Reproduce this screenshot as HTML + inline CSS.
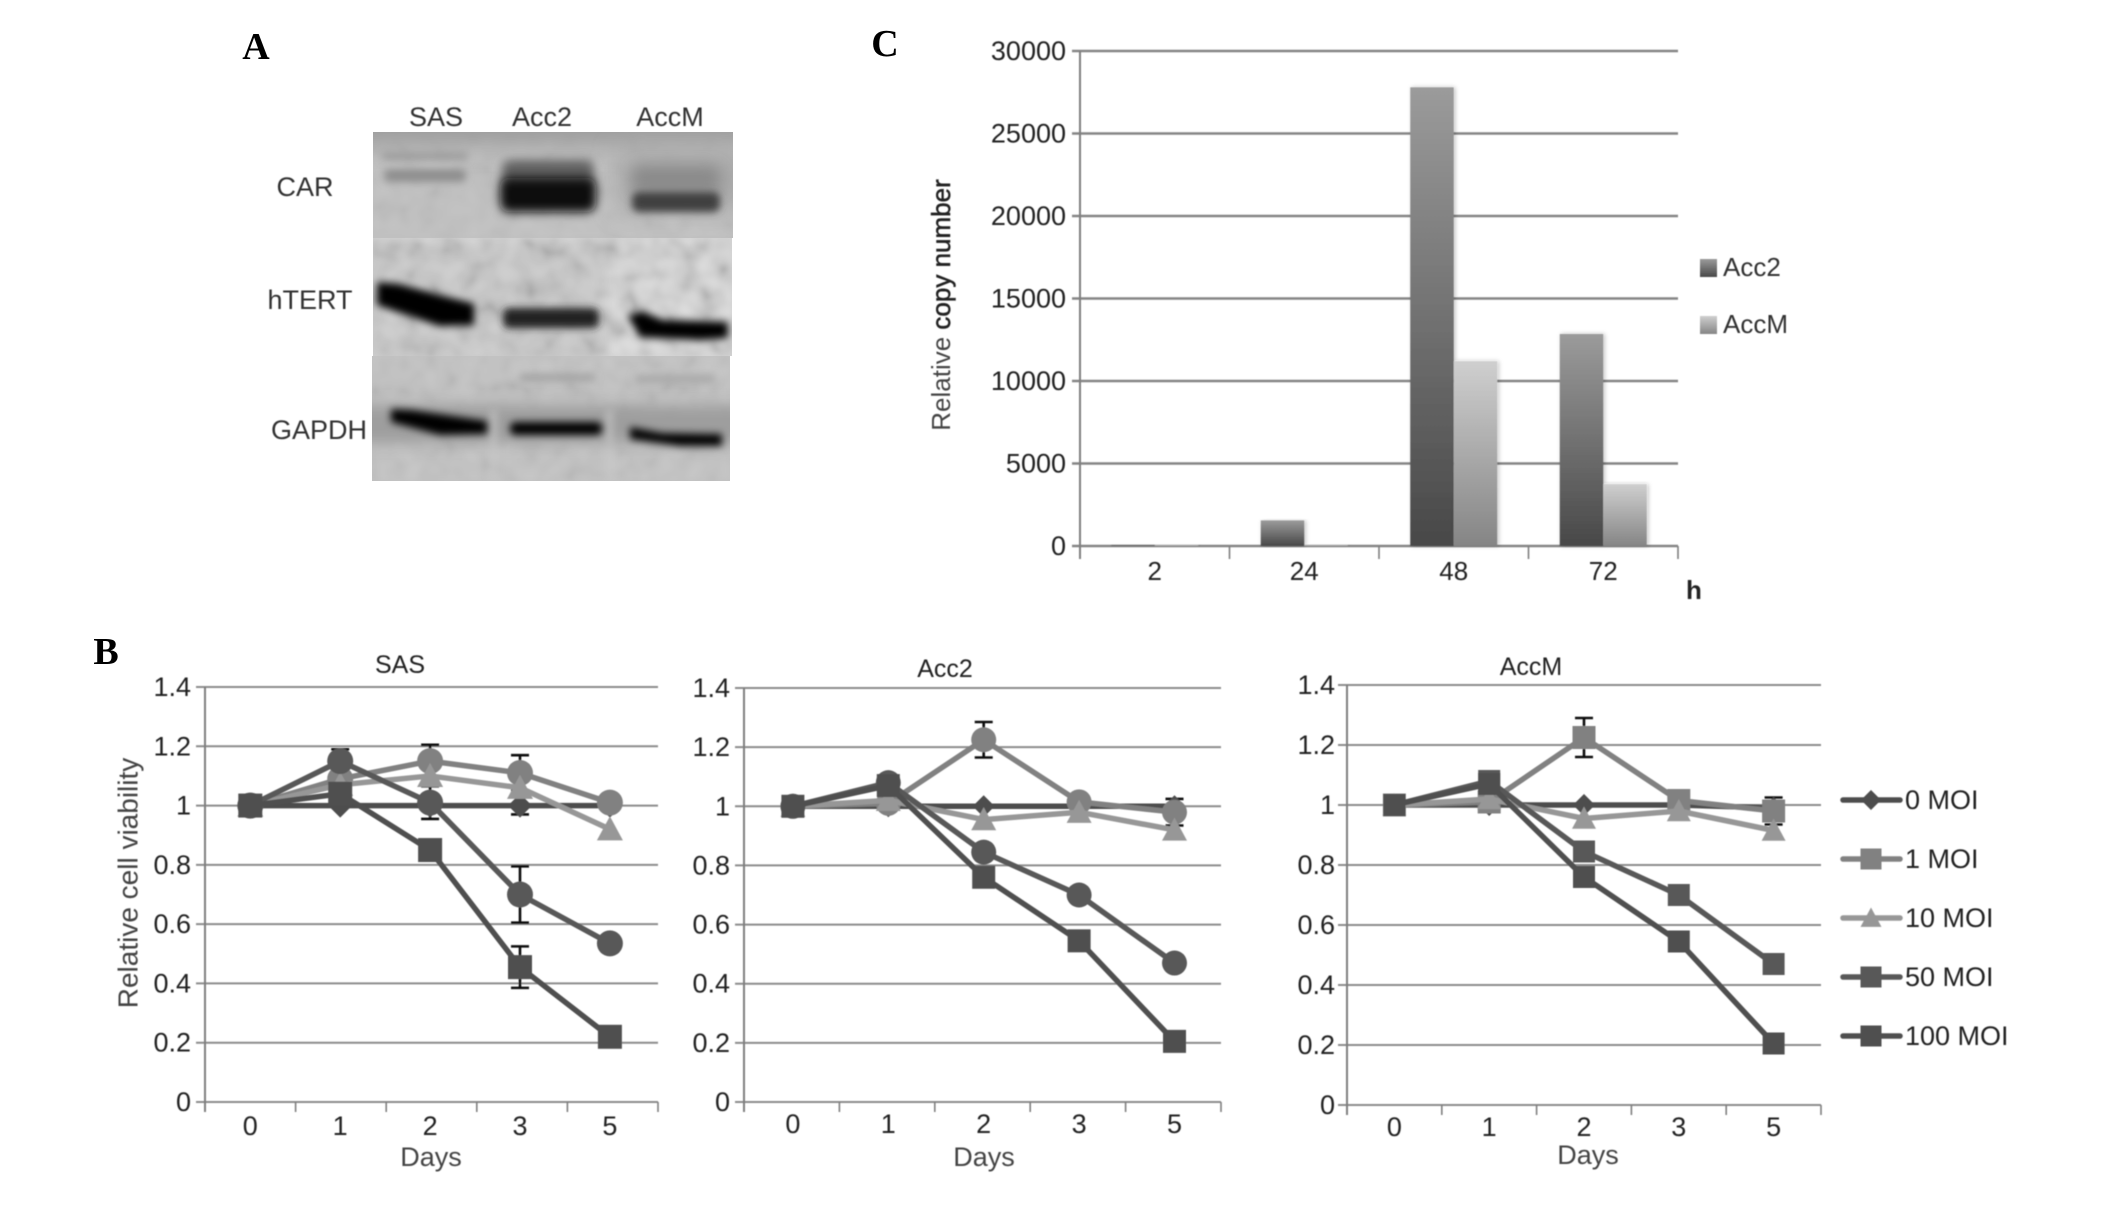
<!DOCTYPE html>
<html lang="en">
<head>
<meta charset="utf-8">
<title>Western blot, cell viability and copy number figure</title>
<style>
html,body{margin:0;padding:0;background:#fff;width:2126px;height:1206px;overflow:hidden}
svg{display:block;font-family:"Liberation Sans",sans-serif}
</style>
</head>
<body>
<svg id="fig" xmlns="http://www.w3.org/2000/svg" width="2126" height="1206" viewBox="0 0 2126 1206">
<defs>
  <filter id="b4" filterUnits="userSpaceOnUse" x="340" y="100" width="420" height="420"><feGaussianBlur stdDeviation="4"/></filter>
  <filter id="b5" filterUnits="userSpaceOnUse" x="340" y="100" width="420" height="420"><feGaussianBlur stdDeviation="5"/></filter>
  <filter id="b7" filterUnits="userSpaceOnUse" x="340" y="100" width="420" height="420"><feGaussianBlur stdDeviation="7"/></filter>
  <filter id="b12" filterUnits="userSpaceOnUse" x="300" y="60" width="500" height="500"><feGaussianBlur stdDeviation="12"/></filter>
  <filter id="soft" x="-5%" y="-5%" width="110%" height="110%"><feGaussianBlur stdDeviation="0.55"/></filter>
  <filter id="noise" x="0" y="0" width="100%" height="100%">
    <feTurbulence type="fractalNoise" baseFrequency="0.05" numOctaves="2" seed="7"/>
    <feColorMatrix type="matrix" values="1.8 0 0 0 -0.4  1.8 0 0 0 -0.4  1.8 0 0 0 -0.4  0 0 0 0 1"/>
    <feGaussianBlur stdDeviation="2.5"/>
  </filter>
  <filter id="shadow" x="-20%" y="-5%" width="140%" height="110%"><feDropShadow dx="1.5" dy="0" stdDeviation="2" flood-color="#000" flood-opacity="0.25"/></filter>
  <linearGradient id="gradAcc2" x1="0" y1="0" x2="0" y2="1"><stop offset="0" stop-color="#9b9b9b"/><stop offset="1" stop-color="#484848"/></linearGradient>
  <linearGradient id="gradAccM" x1="0" y1="0" x2="0" y2="1"><stop offset="0" stop-color="#cfcfcf"/><stop offset="1" stop-color="#858585"/></linearGradient>
  <clipPath id="clipCar"><rect x="373" y="132" width="360" height="106"/></clipPath>
  <clipPath id="clipTert"><rect x="373" y="238" width="359" height="118"/></clipPath>
  <clipPath id="clipGapdh"><rect x="372" y="356" width="358" height="125"/></clipPath>
</defs>

<text x="256" y="59" text-anchor="middle" font-family="Liberation Serif" font-weight="bold" font-size="38" fill="#000">A</text>
<text x="106" y="664" text-anchor="middle" font-family="Liberation Serif" font-weight="bold" font-size="38" fill="#000">B</text>
<text x="885" y="56" text-anchor="middle" font-family="Liberation Serif" font-weight="bold" font-size="38" fill="#000">C</text>

<g>
  <g clip-path="url(#clipCar)">
    <rect x="373" y="132" width="360" height="106" fill="#c0c0c0"/>
    <rect x="373" y="132" width="360" height="106" filter="url(#noise)" opacity="0.06"/>
    <rect x="340" y="105" width="420" height="40" fill="#9c9c9c" filter="url(#b12)"/>
    <rect x="618" y="150" width="130" height="60" fill="#a8a8a8" filter="url(#b12)"/>
    <rect x="382" y="152" width="85" height="8" rx="3" fill="#9c9c9c" filter="url(#b4)"/>
    <rect x="384" y="169" width="82" height="13" rx="5" fill="#8e8e8e" filter="url(#b4)"/>
    <rect x="502" y="160" width="92" height="28" rx="8" fill="#606060" filter="url(#b5)"/>
    <rect x="500" y="178" width="96" height="34" rx="9" fill="#111" filter="url(#b5)"/>
    <rect x="632" y="166" width="88" height="26" rx="8" fill="#8a8a8a" filter="url(#b7)"/>
    <rect x="632" y="192" width="88" height="20" rx="7" fill="#404040" filter="url(#b4)"/>
  </g>
  <g clip-path="url(#clipTert)">
    <rect x="373" y="238" width="359" height="118" fill="#d4d4d4"/>
    <rect x="373" y="238" width="359" height="118" filter="url(#noise)" opacity="0.2"/>
    <rect x="360" y="240" width="245" height="125" fill="#b0b0b0" opacity="0.3" filter="url(#b7)"/>
    <path d="M377 282 L398 284 L474 304 L474 325 L440 326 L377 305 Z" fill="#000" filter="url(#b4)"/>
    <rect x="503" y="308" width="96" height="20" rx="6" fill="#202020" filter="url(#b4)"/>
    <path d="M628 316 L642 311 L662 320 L728 322 L728 338 L700 340 L640 337 Z" fill="#000" filter="url(#b4)"/>
  </g>
  <g clip-path="url(#clipGapdh)">
    <rect x="372" y="356" width="358" height="125" fill="#c2c2c2"/>
    <rect x="372" y="356" width="358" height="125" filter="url(#noise)" opacity="0.08"/>
    <rect x="340" y="405" width="420" height="38" fill="#9e9e9e" filter="url(#b7)"/>
    <rect x="520" y="374" width="75" height="7" fill="#a0a0a0" filter="url(#b4)"/>
    <rect x="635" y="375" width="80" height="8" fill="#a8a8a8" filter="url(#b4)"/>
    <rect x="490" y="410" width="7" height="70" fill="#c8c8c8" opacity="0.7" filter="url(#b4)"/>
    <rect x="606" y="410" width="7" height="70" fill="#c8c8c8" opacity="0.7" filter="url(#b4)"/>
    <path d="M391 409 L412 410 L487 421 L487 434 L440 435 L391 422 Z" fill="#000" filter="url(#b4)"/>
    <rect x="510" y="422" width="92" height="13" rx="5" fill="#000" filter="url(#b4)"/>
    <path d="M630 427 L662 433 L722 434 L722 446 L680 446 L630 439 Z" fill="#000" filter="url(#b4)"/>
  </g>
  <g fill="#333" font-size="27" text-anchor="middle" dominant-baseline="central" filter="url(#soft)">
    <text x="436" y="117">SAS</text>
    <text x="542" y="117">Acc2</text>
    <text x="670" y="117">AccM</text>
    <text x="305" y="187">CAR</text>
    <text x="310" y="300">hTERT</text>
    <text x="319" y="430">GAPDH</text>
  </g>
</g>

<g id="chartC" filter="url(#soft)"></g>
<g id="chartSAS" filter="url(#soft)"></g>
<g id="chartAcc2" filter="url(#soft)"></g>
<g id="chartAccM" filter="url(#soft)"></g>
<g id="legendB" filter="url(#soft)"></g>
</svg>

<script>
// ---- Panel C data ----
const hourCategories = ['2', '24', '48', '72'];
const copyAcc2 = [80, 1550, 27800, 12850];
const copyAccM = [60, 60, 11200, 3750];
const copyTicks = [0, 5000, 10000, 15000, 20000, 25000, 30000];

// ---- Panel B data ----
const dayCategories = ['0', '1', '2', '3', '5'];
const viabilityTicks = [0, 0.2, 0.4, 0.6, 0.8, 1, 1.2, 1.4];
const moiLabels = ['0 MOI', '1 MOI', '10 MOI', '50 MOI', '100 MOI'];

const sasMoi0 = [1, 1, 1, 1, 1];
const sasMoi1 = [1, 1.09, 1.15, 1.11, 1.01];
const sasMoi10 = [1, 1.07, 1.10, 1.06, 0.92];
const sasMoi50 = [1, 1.15, 1.01, 0.70, 0.535];
const sasMoi100 = [1, 1.04, 0.85, 0.455, 0.22];
const sasErrMoi0 = [0, 0, 0, 0.03, 0];
const sasErrMoi1 = [0, 0, 0.055, 0.06, 0];
const sasErrMoi10 = [0, 0, 0, 0, 0];
const sasErrMoi50 = [0, 0.04, 0.055, 0.095, 0];
const sasErrMoi100 = [0, 0, 0.03, 0.07, 0];

const acc2Moi0 = [1, 1, 1, 1, 1];
const acc2Moi1 = [1, 1.01, 1.225, 1.015, 0.98];
const acc2Moi10 = [1, 1.02, 0.955, 0.98, 0.92];
const acc2Moi50 = [1, 1.08, 0.845, 0.70, 0.47];
const acc2Moi100 = [1, 1.07, 0.76, 0.545, 0.205];
const acc2ErrMoi1 = [0, 0, 0.06, 0, 0.045];

const accmMoi0 = [1, 1, 1, 1, 0.99];
const accmMoi1 = [1, 1.01, 1.225, 1.015, 0.98];
const accmMoi10 = [1, 1.02, 0.955, 0.98, 0.915];
const accmMoi50 = [1, 1.08, 0.845, 0.70, 0.47];
const accmMoi100 = [1, 1.07, 0.76, 0.545, 0.205];
const accmErrMoi1 = [0, 0, 0.065, 0, 0.045];

const NS = 'http://www.w3.org/2000/svg';
function make(parent, tag, attrs, text) {
  const el = document.createElementNS(NS, tag);
  for (const k in attrs) el.setAttribute(k, attrs[k]);
  if (text !== undefined) el.textContent = text;
  parent.appendChild(el);
  return el;
}

const AXIS = '#7f7f7f';
const INK = '#222';

// ---- Panel C ----
(function () {
  const root = document.getElementById('chartC');
  const L = 1080, R = 1678, T = 51, B = 546, yMax = 30000;
  const y = v => B - (v / yMax) * (B - T);
  const band = (R - L) / hourCategories.length;
  const xc = i => L + (i + 0.5) * band;
  const bw = 43.5;
  copyTicks.forEach(t => {
    const g = make(root, 'line', { x1: L - 8, x2: R, y1: y(t), y2: y(t), stroke: '#858585', 'stroke-width': 2.4 });
    
    
    const lab = make(root, 'text', { x: L - 14, y: y(t), 'text-anchor': 'end', 'dominant-baseline': 'central', 'font-size': 27, fill: INK }, String(t));
    
    
  });
  const ya = make(root, 'line', { x1: L, x2: L, y1: T, y2: B + 13, stroke: AXIS, 'stroke-width': 2 });
  
  
  for (let i = 0; i <= hourCategories.length; i++) {
    const tk = make(root, 'line', { x1: L + i * band, x2: L + i * band, y1: B, y2: B + 13, stroke: AXIS, 'stroke-width': 1.6 });
    
    
  }
  hourCategories.forEach((c, i) => {
    const a = make(root, 'rect', { x: xc(i) - bw, y: y(copyAcc2[i]), width: bw, height: B - y(copyAcc2[i]), fill: 'url(#gradAcc2)', filter: 'url(#shadow)' });
    
    
    const m = make(root, 'rect', { x: xc(i), y: y(copyAccM[i]), width: bw, height: B - y(copyAccM[i]), fill: 'url(#gradAccM)', filter: 'url(#shadow)' });
    
    
    const lab = make(root, 'text', { x: xc(i), y: 571, 'text-anchor': 'middle', 'dominant-baseline': 'central', 'font-size': 26, fill: INK }, c);
    
    
  });
  const h = make(root, 'text', { x: 1694, y: 590, 'text-anchor': 'middle', 'dominant-baseline': 'central', 'font-size': 26, 'font-weight': 'bold', fill: '#222' }, 'h');
  
  
  const yt = make(root, 'text', { transform: 'translate(941,305) rotate(-90)', 'text-anchor': 'middle', 'dominant-baseline': 'central', 'font-size': 26, fill: '#444' });
  
  
  make(yt, 'tspan', {}, 'Relative ');
  make(yt, 'tspan', { fill: '#222', stroke: '#222', 'stroke-width': 0.5 }, 'copy number');
  const s1 = make(root, 'rect', { x: 1700, y: 259, width: 17, height: 18, fill: 'url(#gradAcc2)' });
  
  
  const t1 = make(root, 'text', { x: 1723, y: 267, 'dominant-baseline': 'central', 'font-size': 26, fill: '#333' }, 'Acc2');
  
  
  const s2 = make(root, 'rect', { x: 1700, y: 316, width: 17, height: 18, fill: 'url(#gradAccM)' });
  
  
  const t2 = make(root, 'text', { x: 1723, y: 324, 'dominant-baseline': 'central', 'font-size': 26, fill: '#333' }, 'AccM');
  
  
})();

// ---- marker helper ----
function marker(parent, kind, cx, cy, r, fill) {
  let el;
  if (kind === 'circle') el = make(parent, 'circle', { cx: cx, cy: cy, r: r, fill: fill });
  else if (kind === 'square') el = make(parent, 'rect', { x: cx - r, y: cy - r, width: 2 * r, height: 2 * r, fill: fill });
  else if (kind === 'diamond') el = make(parent, 'polygon', { points: [cx, cy - r, cx + r, cy, cx, cy + r, cx - r, cy].join(','), fill: fill });
  else el = make(parent, 'polygon', { points: [cx, cy - r, cx + r, cy + r * 0.85, cx - r, cy + r * 0.85].join(','), fill: fill });
  
  
  return el;
}

const moiColors = ['#4d4d4d', '#818181', '#979797', '#585858', '#505050'];

// ---- Panel B line charts ----
function lineChart(rootId, cfg) {
  const root = document.getElementById(rootId);
  const L = cfg.L, R = cfg.R, T = cfg.T, B = cfg.B, yMax = 1.4;
  const y = v => B - (v / yMax) * (B - T);
  const band = (R - L) / dayCategories.length;
  const x = i => L + (i + 0.5) * band + cfg.shift - i * cfg.squeeze;

  viabilityTicks.forEach(t => {
    const g = make(root, 'line', { x1: L - 9, x2: R, y1: y(t), y2: y(t), stroke: '#8c8c8c', 'stroke-width': 2 });
    
    
    const lab = make(root, 'text', { x: cfg.tickRight, y: y(t), 'text-anchor': 'end', 'dominant-baseline': 'central', 'font-size': 27, fill: INK }, String(t));
    
    
  });
  const ya = make(root, 'line', { x1: L, x2: L, y1: T, y2: B + 10, stroke: AXIS, 'stroke-width': 2 });
  
  
  for (let i = 0; i <= dayCategories.length; i++) {
    const tk = make(root, 'line', { x1: L + i * band, x2: L + i * band, y1: B, y2: B + 10, stroke: AXIS, 'stroke-width': 1.6 });
    
    
  }
  dayCategories.forEach((c, i) => {
    const lab = make(root, 'text', { x: x(i), y: cfg.xLabelY, 'text-anchor': 'middle', 'dominant-baseline': 'central', 'font-size': 27, fill: INK }, c);
    
    
  });
  const ttl = make(root, 'text', { x: cfg.titleX, y: cfg.titleY, 'text-anchor': 'middle', 'dominant-baseline': 'central', 'font-size': 25, fill: '#222' }, cfg.title);
  
  
  const dl = make(root, 'text', { x: cfg.daysX, y: cfg.daysY, 'text-anchor': 'middle', 'dominant-baseline': 'central', 'font-size': 27, fill: '#444' }, 'Days');
  
  

  // error bars
  cfg.series.forEach((s, si) => {
    if (!s.err) return;
    s.err.forEach((e, i) => {
      if (!e) return;
      const cap = 9, v = s.values[i], px = x(i);
      const eb = make(root, 'path', {
        d: 'M' + (px - cap) + ' ' + y(v + e) + 'H' + (px + cap) + 'M' + px + ' ' + y(v + e) + 'V' + y(v - e) + 'M' + (px - cap) + ' ' + y(v - e) + 'H' + (px + cap),
        stroke: '#111', 'stroke-width': 2.6, fill: 'none'
      });
      
      
    });
  });
  // lines and markers
  cfg.series.forEach((s, si) => {
    const pl = make(root, 'polyline', {
      points: s.values.map((v, i) => x(i) + ',' + y(v)).join(' '),
      fill: 'none', stroke: moiColors[si], 'stroke-width': 5.5, 'stroke-linejoin': 'round'
    });
    
    
    s.values.forEach((v, i) => {
      marker(root, s.kind, x(i), y(v), s.r, moiColors[si]);
    });
  });
}

lineChart('chartSAS', {
  L: 205, R: 658, T: 687, B: 1102, tickRight: 191, xLabelY: 1126, shift: 0, squeeze: 0.7,
  title: 'SAS', titleX: 400, titleY: 665, daysX: 431, daysY: 1157,
  series: [
    { values: sasMoi0, err: sasErrMoi0, kind: 'diamond', r: 12 },
    { values: sasMoi1, err: sasErrMoi1, kind: 'circle', r: 13 },
    { values: sasMoi10, err: sasErrMoi10, kind: 'triangle', r: 13 },
    { values: sasMoi50, err: sasErrMoi50, kind: 'circle', r: 13 },
    { values: sasMoi100, err: sasErrMoi100, kind: 'square', r: 12 }
  ]
});
lineChart('chartAcc2', {
  L: 744, R: 1221, T: 688, B: 1102, tickRight: 730, xLabelY: 1124, shift: 1.2, squeeze: 0,
  title: 'Acc2', titleX: 945, titleY: 669, daysX: 984, daysY: 1157,
  series: [
    { values: acc2Moi0, kind: 'diamond', r: 11 },
    { values: acc2Moi1, err: acc2ErrMoi1, kind: 'circle', r: 12.5 },
    { values: acc2Moi10, kind: 'triangle', r: 12.5 },
    { values: acc2Moi50, kind: 'circle', r: 12.5 },
    { values: acc2Moi100, kind: 'square', r: 11.5 }
  ]
});
lineChart('chartAccM', {
  L: 1347, R: 1821, T: 685, B: 1105, tickRight: 1335, xLabelY: 1127, shift: 0, squeeze: 0,
  title: 'AccM', titleX: 1531, titleY: 667, daysX: 1588, daysY: 1155,
  series: [
    { values: accmMoi0, kind: 'diamond', r: 11 },
    { values: accmMoi1, err: accmErrMoi1, kind: 'square', r: 11.5 },
    { values: accmMoi10, kind: 'triangle', r: 12 },
    { values: accmMoi50, kind: 'square', r: 11 },
    { values: accmMoi100, kind: 'square', r: 11 }
  ]
});

// ---- Panel B legend ----
(function () {
  const root = document.getElementById('legendB');
  const kinds = ['diamond', 'square', 'triangle', 'square', 'square'];
  const top = 800, step = 59;
  moiLabels.forEach((lab, i) => {
    const yy = top + i * step;
    const ln = make(root, 'line', { x1: 1843, x2: 1900, y1: yy, y2: yy, stroke: moiColors[i], 'stroke-width': 5.5, 'stroke-linecap': 'round' });
    
    
    marker(root, kinds[i], 1871, yy, kinds[i] === 'diamond' ? 10 : 10.5, moiColors[i]);
    const t = make(root, 'text', { x: 1905, y: yy, 'dominant-baseline': 'central', 'font-size': 27, fill: INK }, lab);
    
    
  });
})();

// y-axis title for panel B
(function () {
  const root = document.getElementById('chartSAS');
  const yt = make(root, 'text', { transform: 'translate(128,883) rotate(-90)', 'text-anchor': 'middle', 'dominant-baseline': 'central', 'font-size': 28, fill: '#444' }, 'Relative cell viability');
  
  
})();
</script>
</body>
</html>
